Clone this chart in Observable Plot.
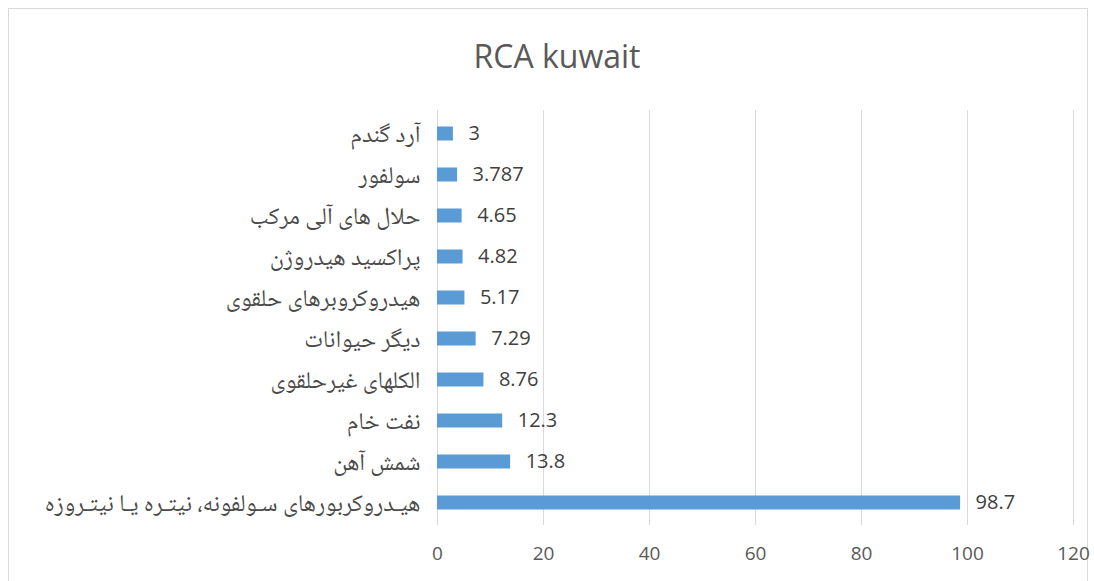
<!DOCTYPE html>
<html>
<head>
<meta charset="utf-8">
<script src="https://cdn.jsdelivr.net/npm/d3@7"></script>
<script src="https://cdn.jsdelivr.net/npm/@observablehq/plot@0.6"></script>
<style>
  html, body { margin: 0; padding: 0; background: #fff; }
  #wrap { position: relative; width: 1094px; height: 581px; overflow: hidden; }
  #frame { position: absolute; left: 8px; top: 8px; width: 1080px; height: 600px; border: 1px solid #d9d9d9; box-sizing: border-box; }
  #title { position: absolute; left: 0; width: 1114px; top: 36px; text-align: center; font-family: "Open Sans", "Noto Sans", sans-serif; font-size: 32px; color: #595959; line-height: 40px; }
  #chart { position: absolute; left: 0; top: 0; }
</style>
</head>
<body>
<div id="wrap">
  <div id="frame"></div>
  <div id="title">RCA kuwait</div>
  <div id="chart"></div>
</div>
<script>
const categories = [
  "آرد گندم",
  "سولفور",
  "حلال های آلی مرکب",
  "پراکسید هیدروژن",
  "هیدروکروبرهای حلقوی",
  "دیگر حیوانات",
  "الکلهای غیرحلقوی",
  "نفت خام",
  "شمش آهن",
  "هیـدروکربورهای سـولفونه، نیتـره یـا نیتـروزه"
];
const values = [3, 3.787, 4.65, 4.82, 5.17, 7.29, 8.76, 12.3, 13.8, 98.7];
const valueLabels = ["3", "3.787", "4.65", "4.82", "5.17", "7.29", "8.76", "12.3", "13.8", "98.7"];
const xTicks = [0, 20, 40, 60, 80, 100, 120];

const data = categories.map((c, i) => ({category: c, value: values[i], label: valueLabels[i]}));

const chart = Plot.plot({
  width: 1094,
  height: 581,
  marginTop: 110,
  marginBottom: 56,
  marginLeft: 437,
  marginRight: 21,
  style: {background: "transparent", overflow: "visible"},
  x: {domain: [0, 120], ticks: xTicks, label: null, tickSize: 0, tickPadding: 22},
  y: {domain: categories, label: null, padding: 0, tickSize: 0, tickPadding: 17},
  marks: [
    Plot.ruleX(xTicks, {stroke: "#d9d9d9", strokeWidth: 1}),
    Plot.barX(data, {x: "value", y: "category", fill: "#5b9bd5", insetTop: 13.5, insetBottom: 13.5}),
    Plot.text(data, {x: "value", y: "category", text: "label", textAnchor: "start", dx: 15, fontSize: 20, fill: "#404040", fontFamily: "Open Sans, Noto Sans, sans-serif"}),
    Plot.axisX({ticks: xTicks, tickSize: 0, tickPadding: 21, fontSize: 19, color: "#595959", fontFamily: "Open Sans, Noto Sans, sans-serif", label: null}),
    Plot.axisY({tickSize: 0, tickPadding: 17, fontSize: 24, color: "#4a4a4a", fontFamily: "'Noto Naskh Arabic', 'Noto Sans Arabic', 'Times New Roman', serif", label: null})
  ]
});
document.getElementById("chart").appendChild(chart);
</script>
</body>
</html>
